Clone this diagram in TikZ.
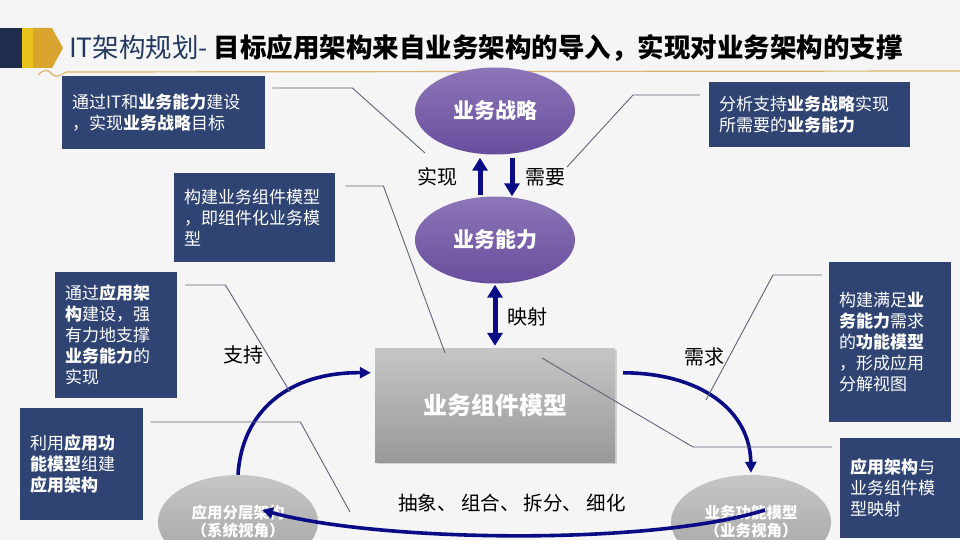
\documentclass[tikz,border=0pt]{standalone}
\usepackage{fontspec}
\setmainfont{Noto Sans CJK SC}
\usepackage{tikz}
\usetikzlibrary{positioning,arrows.meta,shapes.geometric,shadows}
\definecolor{paper}{HTML}{F5F5F5}
\definecolor{navy}{HTML}{2F4473}
\definecolor{ink}{HTML}{0B0B85}
\definecolor{wire}{HTML}{5B6478}
\definecolor{plum}{HTML}{8C76B8}
\definecolor{plumdark}{HTML}{694D9D}
\definecolor{slate}{HTML}{C6C6C6}
\definecolor{slatedark}{HTML}{999999}
\definecolor{barnavy}{HTML}{1F2D4D}
\definecolor{baryellow}{HTML}{E9C21C}
\definecolor{bargold}{HTML}{D9A52E}
\definecolor{rule}{HTML}{D8B46A}
\definecolor{titlenavy}{HTML}{23395F}
\tikzset{
  note/.style    = {fill=navy, text=white, anchor=north west, align=left,
                    inner xsep=10pt, inner ysep=0pt, font=\fontsize{17}{21}\selectfont},
  goal/.style    = {ellipse, top color=plum, bottom color=plumdark, minimum width=160pt,
                    minimum height=87pt, text=white, font=\fontsize{21}{24}\selectfont\bfseries},
  viewell/.style = {ellipse, top color=slate, bottom color=slatedark!90, minimum width=160pt,
                    minimum height=94pt, text=white, align=center, inner sep=0pt,
                    font=\fontsize{15.5}{18}\selectfont\bfseries},
  lbl/.style     = {font=\fontsize{20}{24}\selectfont, inner sep=1pt},
  wirel/.style   = {draw=wire, line width=0.9pt},
  bolt/.style    = {draw=ink, line width=5pt, -{Triangle[width=15pt,length=13pt]}},
  duo/.style     = {draw=ink, line width=5pt,
                    {Triangle[width=15pt,length=13pt]}-{Triangle[width=15pt,length=13pt]}},
  swing/.style   = {draw=ink, line width=3.6pt, -{Triangle[width=11pt,length=11pt]}},
}
\begin{document}
\begin{tikzpicture}[x=1pt,y=-1pt]
  \useasboundingbox (0,0) rectangle (960,540);
  \clip (0,0) rectangle (960,540);
  \fill[paper] (0,0) rectangle (960,540);
  \fill[barnavy] (0,28) rectangle (22,68);
  \fill[baryellow] (22,28) rectangle (33,68);
  \fill[bargold] (33,28) -- (52,28) -- (63,48) -- (52,68) -- (33,68) -- cycle;
  \draw[rule, line width=1.2pt] (38,75) .. controls (44,69) and (48,69) .. (52,74)
    .. controls (56,78) and (60,76) .. (66,72) -- (960,71);
  \node[anchor=west, inner sep=0pt, font=\fontsize{26.5}{30}\selectfont] (title) at (69,48)
    {\textcolor{titlenavy}{IT架构规划-} \textbf{目标应用架构来自业务架构的导入，实现对业务架构的支撑}};

  \node[goal] (strat) at (495,111) {业务战略};
  \node[goal] (cap) at (495,240) {业务能力};
  \node[top color=slate, bottom color=slatedark, minimum width=240pt, minimum height=114pt,
        text=white, font=\fontsize{24}{28}\selectfont\bfseries,
        drop shadow={opacity=0.3, shadow xshift=2pt, shadow yshift=-2pt}] (comp) at (495,405) {业务组件模型};
  \node[viewell] (alayer) at (238,522) {应用分层架构\\（系统视角）};
  \node[viewell] (bfunc) at (751,522) {业务功能模型\\（业务视角）};

  \node[note, text width=183pt, minimum height=73pt] (nbiz) at (62,76)
    {通过IT和\textbf{业务能力}建设\\，实现\textbf{业务战略}目标};
  \node[note, text width=141pt, minimum height=89pt] (nmod) at (174,173)
    {构建业务组件模型\\，即组件化业务模\\型};
  \node[note, text width=181pt, minimum height=65pt] (nneed) at (709,82)
    {分析支持\textbf{业务战略}实现\\所需要的\textbf{业务能力}};
  \node[note, text width=102pt, minimum height=126pt] (nsup) at (55,272)
    {通过\textbf{应用架}\\\textbf{构}建设，强\\有力地支撑\\\textbf{业务能力}的\\实现};
  \node[note, text width=103pt, minimum height=112pt] (nbuild) at (20,408)
    {利用\textbf{应用功}\\\textbf{能模型}组建\\\textbf{应用架构}};
  \node[note, text width=102pt, minimum height=160pt] (nfunc) at (829,262)
    {构建满足\textbf{业}\\\textbf{务能力}需求\\的\textbf{功能模型}\\，形成应用\\分解视图};
  \node[note, text width=105pt, minimum height=100pt] (nmapb) at (840,438)
    {\textbf{应用架构}与\\业务组件模\\型映射};

  \node[lbl] (lreal) at (437,177) {实现};
  \node[lbl] (lneed) at (545,177) {需要};
  \node[lbl] (lmap) at (527,317) {映射};
  \node[lbl] (lsup) at (243,355) {支持};
  \node[lbl] (ldem) at (704,357) {需求};
  \node[font=\fontsize{19.5}{24}\selectfont] (lops) at (512,503) {抽象、 组合、 拆分、 细化};

  \draw[bolt, shorten >=3pt, shorten <=1pt] ([xshift=-15pt]cap.north) -- ([xshift=-15pt]strat.south);
  \draw[bolt, shorten <=3pt] ([xshift=17pt]strat.south) -- ([xshift=17pt]cap.north);
  \draw[duo, shorten <=1pt, shorten >=2pt] (cap.south) -- (comp.north);

  \draw[swing] (alayer.north) .. controls (242,410) and (290,372) .. ([xshift=-4pt]comp.165);
  \draw[swing, shorten >=2pt] ([xshift=8pt]comp.15) .. controls (700,373) and (750,410) .. (bfunc.north);
  \draw[swing] ([shift={(14,-12)}]bfunc.center) .. controls (650,546) and (380,542) .. ([shift={(24,-12)}]alayer.center);

  \coordinate (eA) at (425,153);
  \coordinate (eB) at (445,353);
  \coordinate (eC) at (567,167);
  \coordinate (eD) at (290,392);
  \coordinate (eE) at (350,512);
  \coordinate (eF) at (706,400);
  \coordinate (eG) at (542,358);
  \draw[wirel] ([shift={(7,12)}]nbiz.north east) -- ++(80,0) -- (eA);
  \draw[wirel] ([shift={(10,13)}]nmod.north east) -- ++(38,0) -- (eB);
  \draw[wirel] ([shift={(-9,13)}]nneed.north west) -- ++(-67,0) -- (eC);
  \draw[wirel] ([shift={(8,13)}]nsup.north east) -- ++(40,0) -- (eD);
  \draw[wirel] ([shift={(7,14)}]nbuild.north east) -- ++(150,0) -- (eE);
  \draw[wirel] ([shift={(-7,13)}]nfunc.north west) -- ++(-49,0) -- (eF);
  \draw[wirel] ([shift={(-8,9)}]nmapb.north west) -- ++(-139,0) -- (eG);
\end{tikzpicture}
\end{document}
